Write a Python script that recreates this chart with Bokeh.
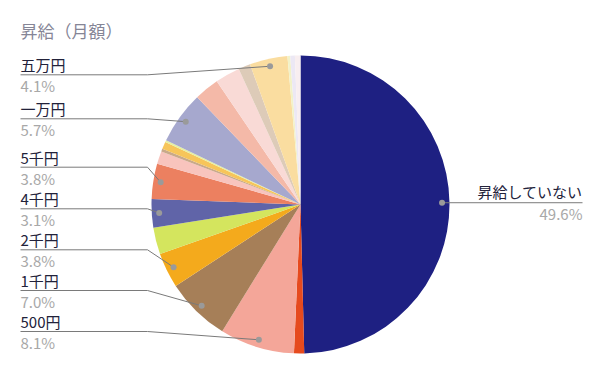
import math
from bokeh.plotting import figure
from bokeh.models import ColumnDataSource, Range1d
from bokeh.core.properties import value
from bokeh.embed import file_html
from bokeh.resources import INLINE

# ---- data ----
title_text = "昇給（月額）"
categories = ["昇給していない", "100円", "500円", "1千円", "2千円", "3千円", "4千円", "5千円",
              "6千円", "7千円", "8千円", "9千円", "一万円", "二万円", "三万円", "四万円",
              "五万円", "十万円", "その他", "不明"]
values = [49.6, 1.1, 8.1, 7.0, 3.8, 2.9, 3.1, 3.8,
          1.4, 0.3, 0.8, 0.2, 5.7, 2.7, 2.7, 1.3,
          4.1, 0.3, 0.5, 0.6]
colors = ["#1E2082", "#E64A1E", "#F4A699", "#A67F58", "#F4AA1C", "#D4E55E", "#6064A8", "#EC8060",
          "#F8C4BD", "#C9A98A", "#F7C55A", "#E6F0A0", "#A6A8CE", "#F4B9A8", "#F9DAD6", "#DDCBB8",
          "#FADDA0", "#F2F2C8", "#ECE8F4", "#F8EEF0"]
left_labeled = ["五万円", "一万円", "5千円", "4千円", "2千円", "1千円", "500円"]
right_labeled = ["昇給していない"]

# ---- layout ----
FW, FH = 584, 355
def Y(yp):
    return -yp

cx, cy, R = 300, 204, 149
dot_r = 0.95 * R
left_line_y = [74.3, 118.3, 166.7, 208.3, 249.3, 290, 331]
left_x0, elbow_x = 20, 147
right_x1 = 582

FONT = value("Noto Sans CJK JP")

p = figure(width=FW, height=FH, output_backend="svg", toolbar_location=None,
           x_range=Range1d(0, FW), y_range=Range1d(-FH, 0),
           x_axis_type=None, y_axis_type=None, min_border=0)
p.grid.visible = False
p.outline_line_color = None
p.background_fill_color = "white"
p.border_fill_color = "white"

total = sum(values)
cum = 0.0
starts, ends, mids = [], [], []
for v in values:
    a0 = cum / total * 2 * math.pi
    cum += v
    a1 = cum / total * 2 * math.pi
    starts.append(math.pi / 2 - a0)
    ends.append(math.pi / 2 - a1)
    mids.append((a0 + a1) / 2)

src = ColumnDataSource(dict(start=starts, end=ends, color=colors, cat=categories, val=values))
p.wedge(x=cx, y=Y(cy), radius=R, start_angle="start", end_angle="end", direction="clock",
        fill_color="color", line_color=None, source=src)

def dot_pos(cat):
    i = categories.index(cat)
    m = mids[i]
    return cx + dot_r * math.sin(m), cy - dot_r * math.cos(m)

xs, ys, dx, dy = [], [], [], []
lab_x, lab_y, lab_t = [], [], []
pct_x, pct_y, pct_t = [], [], []
for cat, ly in zip(left_labeled, left_line_y):
    px, py = dot_pos(cat)
    xs.append([left_x0, elbow_x, px])
    ys.append([Y(ly), Y(ly), Y(py)])
    dx.append(px); dy.append(Y(py))
    lab_x.append(left_x0); lab_y.append(Y(ly - 10)); lab_t.append(cat)
    pct_x.append(left_x0); pct_y.append(Y(ly + 11))
    pct_t.append(f"{values[categories.index(cat)]:.1f}%")

p.multi_line(xs=xs, ys=ys, line_color="#7a7a7a", line_width=1)

rlab_y, rpct_y, rlab_t, rpct_t = [], [], [], []
for cat in right_labeled:
    px, py = dot_pos(cat)
    p.line(x=[px, right_x1], y=[Y(py), Y(py)], line_color="#7a7a7a", line_width=1)
    dx.append(px); dy.append(Y(py))
    rlab_y.append(Y(py - 11)); rlab_t.append(cat)
    rpct_y.append(Y(py + 11)); rpct_t.append(f"{values[categories.index(cat)]:.1f}%")

p.scatter(x=dx, y=dy, size=6, fill_color="#9a9a9a", line_color=None)

p.text(x=lab_x, y=lab_y, text=lab_t, text_font=FONT, text_font_size="15px",
       text_color="#22223a", text_baseline="middle", text_align="left")
p.text(x=pct_x, y=pct_y, text=pct_t, text_font=FONT, text_font_size="15px",
       text_color="#a8a8a8", text_baseline="middle", text_align="left")
p.text(x=[right_x1] * len(rlab_t), y=rlab_y, text=rlab_t, text_font=FONT, text_font_size="15px",
       text_color="#22223a", text_baseline="middle", text_align="right")
p.text(x=[right_x1] * len(rpct_t), y=rpct_y, text=rpct_t, text_font=FONT, text_font_size="15px",
       text_color="#a8a8a8", text_baseline="middle", text_align="right")

p.text(x=[20], y=[Y(30)], text=[title_text], text_font=FONT, text_font_size="17px",
       text_color="#858596", text_baseline="middle", text_align="left")

open("out.html", "w").write(file_html(p, INLINE))
